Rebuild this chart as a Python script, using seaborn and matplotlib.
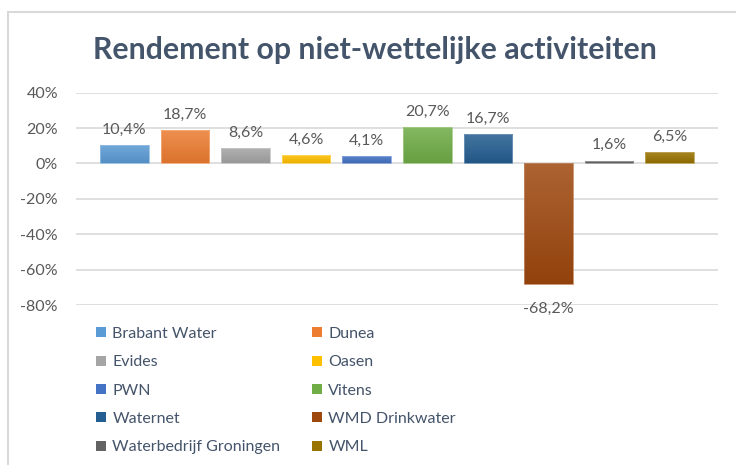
import numpy as np
import pandas as pd
import matplotlib.pyplot as plt
import seaborn as sns
from matplotlib.patches import Patch, Rectangle
from matplotlib.colors import LinearSegmentedColormap, to_rgb


bedrijven = ['Brabant Water', 'Dunea', 'Evides', 'Oasen', 'PWN', 'Vitens',
             'Waternet', 'WMD Drinkwater', 'Waterbedrijf Groningen', 'WML']
rendement = [10.4, 18.7, 8.6, 4.6, 4.1, 20.7, 16.7, -68.2, 1.6, 6.5]
kleuren = ['#5B9BD5', '#ED7D31', '#A5A5A5', '#FFC000', '#4472C4', '#70AD47',
           '#255E91', '#9E480E', '#636363', '#997300']
y_ticks = [-80, -60, -40, -20, 0, 20, 40]

df = pd.DataFrame({'bedrijf': bedrijven, 'rendement': rendement})

sns.set_theme(style='white')
plt.rcParams['font.family'] = ['Lato', 'DejaVu Sans']

fig = plt.figure(figsize=(7.36, 4.65), dpi=100)
ax = fig.add_axes([0.1033, 0.344, 0.8722, 0.4566])

sns.barplot(data=df, x='bedrijf', y='rendement', hue='bedrijf',
            palette=kleuren, saturation=1, width=0.8, legend=False, ax=ax)


def mix(c, other, t):
    c = np.array(to_rgb(c))
    return tuple(c + (np.array(other) - c) * t)


# Excel-like vertical gradient on each bar
for bar, kleur in zip(ax.patches, kleuren):
    x0, w = bar.get_x(), bar.get_width()
    y0, y1 = sorted([bar.get_y(), bar.get_y() + bar.get_height()])
    cmap = LinearSegmentedColormap.from_list('g', [mix(kleur, (0, 0, 0), 0.08),
                                                   mix(kleur, (1, 1, 1), 0.15)])
    im = ax.imshow(np.linspace(0, 1, 64).reshape(-1, 1), extent=[x0, x0 + w, y0, y1],
                   origin='lower', cmap=cmap, aspect='auto', zorder=3)
    im.set_clip_path(bar)
    bar.set_facecolor('none')
    bar.set_edgecolor(mix(kleur, (1, 1, 1), 0.35))
    bar.set_linewidth(0.6)
    bar.set_zorder(4)

for i, v in enumerate(rendement):
    label = f'{v:.1f}%'.replace('.', ',')
    if v >= 0:
        ax.annotate(label, (i, v), xytext=(0, 6), textcoords='offset points',
                    ha='center', va='bottom', fontsize=11.5, color='#595959')
    else:
        ax.annotate(label, (i, v), xytext=(0, -13), textcoords='offset points',
                    ha='center', va='top', fontsize=11.5, color='#595959')

ax.set_xlim(-0.8, 9.8)
ax.set_ylim(-80, 40)
ax.set_yticks(y_ticks)
ax.set_yticklabels([f'{t}%' for t in y_ticks])
ax.set_xticks([])
ax.set_xlabel('')
ax.set_ylabel('')
ax.tick_params(axis='y', length=0, pad=13, labelsize=11.5, labelcolor='#595959')
ax.grid(axis='y', color='#D9D9D9', linewidth=1.2)
ax.set_axisbelow(True)
for s in ax.spines.values():
    s.set_visible(False)

fig.text(0.51, 0.893, 'Rendement op niet-wettelijke activiteiten', ha='center', va='center',
         fontsize=21.8, fontweight='bold', color='#44546A')

# legend in two columns, row-wise order like Excel
handles = [Patch(facecolor=k, edgecolor='none', label=b) for b, k in zip(bedrijven, kleuren)]
leg_kw = dict(frameon=False, fontsize=11.5, handlelength=0.6, handleheight=0.6,
              handletextpad=0.4, labelspacing=0.9, borderpad=0, borderaxespad=0,
              loc='upper left', labelcolor='#44546A')
leg1 = fig.legend(handles=handles[0::2], bbox_to_anchor=(0.131, 0.297), **leg_kw)
fig.legend(handles=handles[1::2], bbox_to_anchor=(0.4245, 0.297), **leg_kw)

# chart border
fig.patches.append(Rectangle((8 / 736, -0.1), 1.2, 1 - 12 / 465 + 0.1, transform=fig.transFigure,
                             fill=False, edgecolor='#D9D9D9', linewidth=1.5))

fig.savefig('out.png', dpi=100)
